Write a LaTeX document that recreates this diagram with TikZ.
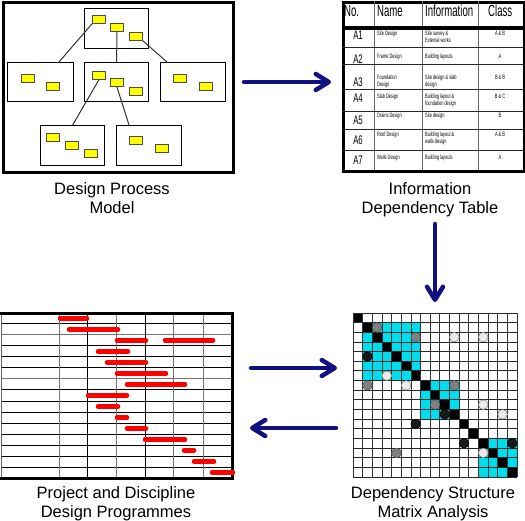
\documentclass[tikz,border=0pt]{standalone}
\usepackage{fontspec}
\usepackage{graphicx}
\setmainfont{Liberation Sans}
\usetikzlibrary{arrows.meta}
\definecolor{navy}{RGB}{16,16,128}
\definecolor{dsmcyan}{RGB}{0,222,238}
\definecolor{barred}{RGB}{255,0,0}
\definecolor{ylw}{RGB}{255,255,0}
\newcommand{\nar}[1]{\scalebox{0.62}[1]{#1}}
\begin{document}
\begin{tikzpicture}[x=1pt,y=-1pt,
  panel/.style={draw=black, line width=3pt, inner sep=0pt, anchor=north west},
  mbox/.style={draw=black, line width=1.3pt, inner sep=0pt, anchor=north west},
  ybox/.style={draw=black!70, fill=ylw, line width=0.8pt, inner sep=0pt, anchor=north west, minimum width=13pt, minimum height=8pt},
  link/.style={draw=black!80, line width=1pt},
  bigarrow/.style={draw=navy, line width=4.5pt, line cap=round, -{Straight Barb[length=13pt,width=16pt,round]}},
  lbl/.style={font=\fontsize{16.5}{19}\selectfont, align=center, anchor=base, inner sep=0pt},
  hdr/.style={font=\fontsize{16}{16}\selectfont, anchor=base west, inner sep=0pt},
  alab/.style={font=\fontsize{12.5}{12.5}\selectfont, anchor=base, inner sep=0pt},
  small/.style={font=\fontsize{6.3}{7}\selectfont, align=left, anchor=north west, inner sep=0pt},
  cls/.style={font=\fontsize{6.3}{7}\selectfont, anchor=center, inner sep=0pt},
  bar/.style={draw=barred, line width=4.5pt, line cap=round},
  glK/.style={draw=black, line width=1pt},
  glG/.style={draw=black!55, line width=1pt},
  dotG/.style={fill=black!50, draw=black!65, line width=0.6pt},
  dotL/.style={fill=black!8, draw=black!45, line width=0.6pt},
  dotK/.style={fill=black!90, draw=black, line width=0.6pt}]
\useasboundingbox (0,0) rectangle (525,521);
\fill[white] (0,0) rectangle (525,521);

% ---------- Design process model ----------
\node[panel, minimum width=230.5pt, minimum height=169.5pt] (P1) at (1.5,1.5) {};
\node[mbox, minimum width=64pt, minimum height=40pt] (bT) at (84,8) {};
\node[mbox, minimum width=66pt, minimum height=39pt] (bL) at (7,62) {};
\node[mbox, minimum width=64pt, minimum height=39pt] (bM) at (84,62) {};
\node[mbox, minimum width=65pt, minimum height=39pt] (bR) at (160,62) {};
\node[mbox, minimum width=64pt, minimum height=40pt] (bBL) at (40,125) {};
\node[mbox, minimum width=65pt, minimum height=40pt] (bBR) at (116,125) {};
\node[ybox] (t1) at (92,15) {};
\node[ybox] (t2) at (110,23) {};
\node[ybox] (t3) at (129,32) {};
\node[ybox] (l1) at (21,74) {};
\node[ybox] (l2) at (46,82) {};
\node[ybox] (m1) at (92,71) {};
\node[ybox] (m2) at (110,78) {};
\node[ybox] (m3) at (129,87) {};
\node[ybox] (r1) at (173,74) {};
\node[ybox] (r2) at (199,82) {};
\node[ybox] (p1) at (46,133) {};
\node[ybox] (p2) at (65,141) {};
\node[ybox] (p3) at (84,149) {};
\node[ybox] (q1) at (129,136) {};
\node[ybox] (q2) at (155,144) {};
\coordinate (c1) at (59,62);
\coordinate (c3) at (167,62);
\coordinate (c5) at (129,125);
\draw[link] (t1.south west) -- (c1);
\draw[link] (t2.south) -- (bM.north);
\draw[link] (t3.south east) -- (c3);
\draw[link] (m1.south) -- (bBL.north);
\draw[link] (m2.south) -- (c5);

% ---------- Information dependency table ----------
\node[panel, minimum width=181pt, minimum height=168.5pt] (TB) at (342,1.5) {};
\foreach \xx in {374,422,478} \draw[line width=0.9pt, black!60] (\xx,1.5) -- (\xx,170);
\foreach \yy in {48,65,90,112,130,151} \draw[line width=1pt, black!85] (342,\yy) -- (523,\yy);
\draw[line width=4pt] (342,28) -- (523,28);
\node[hdr] (hNo) at (344,17) {\scalebox{0.6}[1]{No.}};
\node[hdr] (hNa) at (377,17) {\scalebox{0.6}[1]{Name}};
\node[hdr] (hIn) at (425,17) {\scalebox{0.6}[1]{Information}};
\node[hdr] (hCl) at (488,17) {\scalebox{0.6}[1]{Class}};
\foreach \lab/\bl/\yc/\nm/\inf/\cl [count=\k] in {
  A1/40/33/{\nar{Site Design}}/{\nar{Site survey \&}\\\nar{External works}}/{A \& B},
  A2/63.5/56.5/{\nar{Frame Design}}/{\nar{Building layouts}}/{A},
  A3/87/77/{\nar{Foundation}\\\nar{Design}}/{\nar{Site design \& slab}\\\nar{design}}/{B \& B},
  A4/103/96/{\nar{Slab Design}}/{\nar{Building layout \&}\\\nar{foundation design}}/{B \& C},
  A5/125/115/{\nar{Drains Design}}/{\nar{Site design}}/{B},
  A6/145/134/{\nar{Roof Design}}/{\nar{Building layout \&}\\\nar{walls design}}/{A \& B},
  A7/165/157/{\nar{Walls Design}}/{\nar{Building layouts}}/{A}} {
  \node[alab] (lab\k) at (358,\bl) {\scalebox{0.62}[1]{\lab}};
  \node[small] (nm\k) at (377,\yc-2.4) {\nm};
  \node[small] (inf\k) at (425,\yc-2.4) {\inf};
  \node[cls] (cl\k) at (500,\yc) {\nar{\cl}};
}

% ---------- DSM ----------
\begin{scope}[shift={(353,313)}, x=9.65pt, y=-9.65pt]
  \fill[dsmcyan] (1,1) rectangle (7,7);
  \fill[dsmcyan] (7,7) rectangle (11,11);
  \fill[dsmcyan] (13,13) rectangle (17,17);
  \foreach \i in {0,...,16} \fill[black] (\i,\i) rectangle ++(1,1);
  \foreach \i in {0,...,17} {
    \draw[black!80, line width=0.8pt] (\i,0) -- (\i,17);
    \draw[black!85, line width=0.8pt] (0,\i) -- (17,\i);
  }
  \foreach \r/\c/\t in {1/2/G, 2/6/G, 2/10/L, 2/13/L, 4/1/K, 6/3/L, 7/1/G, 7/5/L, 7/10/G,
     9/8/G, 9/13/L, 10/9/K, 10/15/L, 11/6/K, 13/11/K, 13/16/K, 14/4/G, 14/13/L}
    \draw[dot\t] (\c+0.5,\r+0.5) circle[radius=4.8pt];
\end{scope}

% ---------- Gantt chart ----------
\foreach \i in {1,...,14} {
  \pgfmathsetmacro{\yy}{313+11*\i}
  \ifnum\i=2 \draw[glG] (1.5,\yy) -- (232,\yy);
  \else\ifnum\i=6 \draw[glG] (1.5,\yy) -- (232,\yy);
  \else \draw[glK] (1.5,\yy) -- (232,\yy);\fi\fi
}
\foreach \xx/\st in {59/glG, 87/glK, 116/glG, 145/glK, 173/glG, 203/glG}
  \draw[\st] (\xx,313) -- (\xx,478);
\draw[line width=1pt, black!60] (1.5,313) -- (1.5,478);
\draw[line width=3pt] (0,313.5) -- (232,313.5) -- (232,478) -- (0,478);
\foreach \i/\a/\b in {0/60/87, 1/69/118, 2/117/146, 2/165/213, 3/98/128, 4/107/146,
   5/117/166, 6/127/185, 7/88/127, 8/98/118, 9/117/127, 10/127/146, 11/145/185,
   12/184/194, 13/194/214, 14/212/233}
  \draw[bar] (\a,318.5+11*\i) -- (\b,318.5+11*\i);

% ---------- arrows ----------
\coordinate (a1s) at (244,82);
\coordinate (a1e) at (331,82);
\coordinate (a2s) at (435,224);
\coordinate (a2e) at (435,302);
\coordinate (a3s) at (251,368);
\coordinate (a3e) at (337,368);
\coordinate (a4s) at (336,428);
\coordinate (a4e) at (250,428);
\draw[bigarrow] (a1s) -- (a1e);
\draw[bigarrow] (a2s) -- (a2e);
\draw[bigarrow] (a3s) -- (a3e);
\draw[bigarrow] (a4s) -- (a4e);

% ---------- labels ----------
\node[lbl] (L1) at (112,214) {Design Process\\Model};
\node[lbl] (L2) at (430,214) {Information\\Dependency Table};
\node[lbl] (L3) at (116,517) {Project and Discipline\\Design Programmes};
\node[lbl] (L4) at (433,517) {Dependency Structure\\Matrix Analysis};
\end{tikzpicture}
\end{document}
